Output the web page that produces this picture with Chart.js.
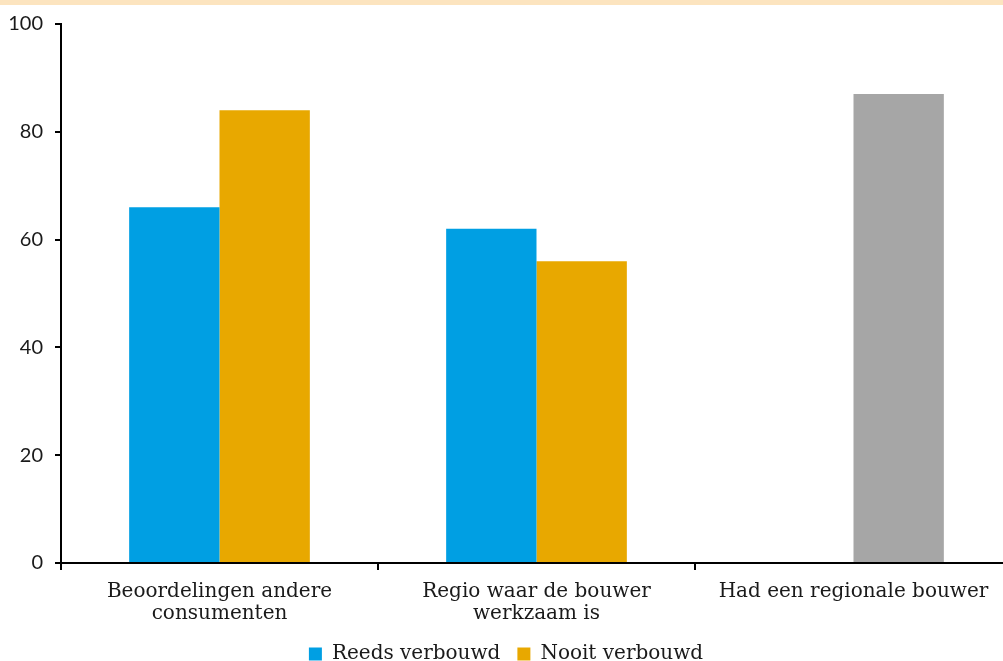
<!DOCTYPE html>
<html>
<head>
<meta charset="utf-8">
<script src="https://cdn.jsdelivr.net/npm/chart.js@4"></script>
<style>
  html, body { margin: 0; padding: 0; background: #fff; overflow: hidden; }
  #wrap { position: relative; width: 1012px; height: 674px; }
</style>
</head>
<body>
<div id="wrap"><canvas id="myChart"></canvas></div>
<script>
const categories = [
    ['Beoordelingen andere', 'consumenten'],
    ['Regio waar de bouwer', 'werkzaam is'],
    'Had een regionale bouwer'
];
const reedsVerbouwd = [66, 62, null];
const nooitVerbouwd = [84, 56, 87];
const yTicks = [0, 20, 40, 60, 80, 100];

const BLUE = '#009FE3';
const ORANGE = '#E8A800';
const GREY = '#A6A6A6';
const SERIF = "'DejaVu Serif', serif";

// smalle oranje band bovenaan
const topBand = {
    id: 'topBand',
    beforeDraw(chart) {
        const c = chart.ctx;
        c.save();
        c.fillStyle = '#FCE4BF';
        c.fillRect(0, 0, chart.width, 5);
        c.restore();
    }
};

const ctx = document.getElementById('myChart').getContext('2d');

new Chart(ctx, {
    type: 'bar',
    data: {
        labels: categories,
        datasets: [
            {
                label: 'Reeds verbouwd',
                data: reedsVerbouwd,
                backgroundColor: BLUE
            },
            {
                label: 'Nooit verbouwd',
                data: nooitVerbouwd,
                // laatste categorie heeft alleen een totaal, in grijs
                backgroundColor: c => c.dataIndex === 2 ? GREY : ORANGE
            }
        ]
    },
    options: {
        responsive: true,
        maintainAspectRatio: false,
        animation: false,
        barPercentage: 1,
        categoryPercentage: 0.57,
        layout: { padding: { top: 16, right: 0, left: 0, bottom: 0 } },
        plugins: {
            tooltip: { enabled: false },
            legend: {
                position: 'bottom',
                labels: {
                    font: { family: SERIF, size: 20 },
                    color: '#1a1a1a',
                    boxWidth: 13,
                    boxHeight: 13,
                    padding: 17
                }
            }
        },
        scales: {
            x: {
                afterFit(scale) { scale.height = 64; },
                grid: {
                    offset: true,
                    drawOnChartArea: false,
                    color: '#000',
                    tickLength: 7,
                    lineWidth: 2
                },
                border: { color: '#000', width: 2 },
                ticks: {
                    font: { family: SERIF, size: 20, lineHeight: 1.1 },
                    color: '#1a1a1a',
                    maxRotation: 0,
                    padding: 11
                }
            },
            y: {
                min: 0,
                max: 100,
                afterFit(scale) { scale.width = 61; },
                afterBuildTicks(scale) { scale.ticks = yTicks.map(v => ({ value: v })); },
                grid: {
                    drawOnChartArea: false,
                    color: '#000',
                    tickLength: 6,
                    lineWidth: 2
                },
                border: { color: '#000', width: 2 },
                ticks: {
                    font: { family: "Lato, 'Open Sans', sans-serif", size: 20 },
                    color: '#1a1a1a',
                    padding: 12
                }
            }
        }
    },
    plugins: [topBand]
});
</script>
</body>
</html>
